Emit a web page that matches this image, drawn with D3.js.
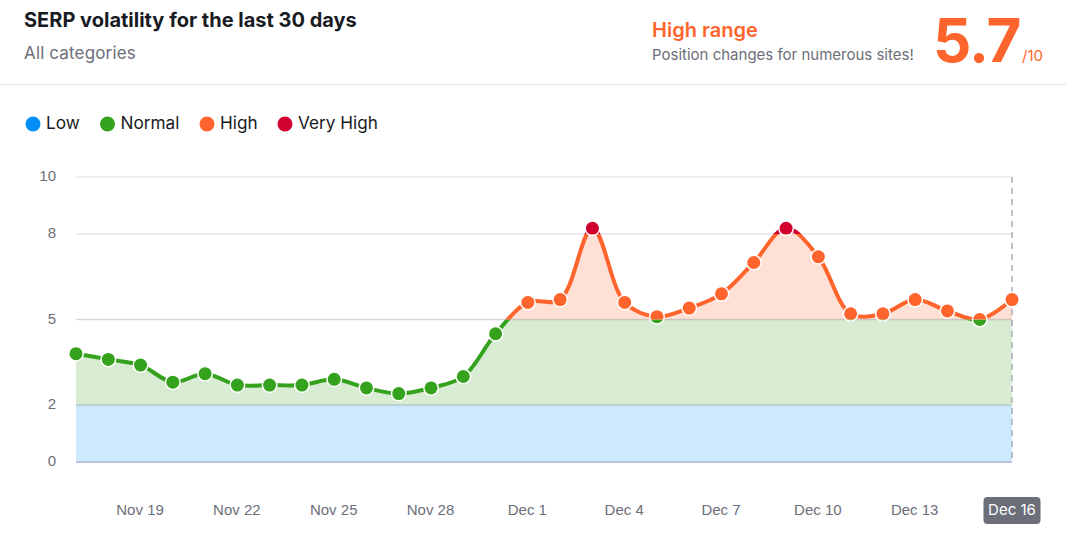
<!DOCTYPE html>
<html><head>
<meta charset="UTF-8">
<title>SERP volatility</title>
<script src="https://d3js.org/d3.v7.min.js"></script>
<style>
    html, body { margin: 0; padding: 0; background: #fff; }
    svg { display: block; font-family: Inter, sans-serif; }
    .tick line, .domain { display: none; }
    .y-axis text { font-size: 15px; fill: #6c6e79; }
    .x-axis text { font-size: 15px; fill: #6c6e79; }
</style>
</head>
<body>
<svg id="chart" width="1066" height="544"></svg>
<script>
    const dates = ["Nov 17", "Nov 18", "Nov 19", "Nov 20", "Nov 21", "Nov 22", "Nov 23", "Nov 24", "Nov 25", "Nov 26",
        "Nov 27", "Nov 28", "Nov 29", "Nov 30", "Dec 1", "Dec 2", "Dec 3", "Dec 4", "Dec 5", "Dec 6",
        "Dec 7", "Dec 8", "Dec 9", "Dec 10", "Dec 11", "Dec 12", "Dec 13", "Dec 14", "Dec 15", "Dec 16"];
    const scores = [3.8, 3.6, 3.4, 2.8, 3.1, 2.7, 2.7, 2.7, 2.9, 2.6,
        2.4, 2.6, 3.0, 4.5, 5.6, 5.7, 8.2, 5.6, 5.1, 5.4,
        5.9, 7.0, 8.2, 7.2, 5.2, 5.2, 5.7, 5.3, 5.0, 5.7];
    const yTicks = [0, 2, 5, 8, 10];
    const xTicks = ["Nov 19", "Nov 22", "Nov 25", "Nov 28", "Dec 1", "Dec 4", "Dec 7", "Dec 10", "Dec 13"];
    const lastDate = "Dec 16";

    const bandNames = ["Low", "Normal", "High", "Very High"];
    const bandFrom = [0, 2, 5, 8];
    const bandTo = [2, 5, 8, 10];
    const bandColors = ["#008ff8", "#35a21e", "#ff642d", "#d1002f"];

    const svg = d3.select("#chart");
    const x = d3.scalePoint().domain(dates).range([76, 1012]);
    const y = d3.scaleLinear().domain([0, 10]).range([462, 177]);

    // header
    svg.append("text").attr("x", 24).attr("y", 27).attr("font-size", 20).attr("font-weight", 700)
        .attr("fill", "#191b23").text("SERP volatility for the last 30 days");
    svg.append("text").attr("x", 24).attr("y", 59).attr("font-size", 17).attr("letter-spacing", 0.15)
        .attr("fill", "#6c6e79").text("All categories");
    svg.append("text").attr("x", 652).attr("y", 37).attr("font-size", 20).attr("font-weight", 600)
        .attr("fill", "#ff642d").text("High range");
    svg.append("text").attr("x", 652).attr("y", 60).attr("font-size", 15)
        .attr("fill", "#6c6e79").text("Position changes for numerous sites!");
    svg.append("text").attr("x", 933).attr("y", 62).attr("font-size", 60).attr("font-weight", 700)
        .attr("letter-spacing", -1).attr("fill", "#ff642d").text("5.7");
    svg.append("text").attr("x", 1022).attr("y", 61).attr("font-size", 15)
        .attr("fill", "#ff642d").text("/10");
    svg.append("line").attr("x1", 0).attr("x2", 1066).attr("y1", 84.5).attr("y2", 84.5)
        .attr("stroke", "#e0e1e9");

    // legend
    const legendCx = [33, 107.5, 207, 285];
    bandNames.forEach((name, i) => {
        svg.append("circle").attr("cx", legendCx[i]).attr("cy", 124).attr("r", 7.5).attr("fill", bandColors[i]);
        svg.append("text").attr("x", legendCx[i] + 13).attr("y", 129).attr("font-size", 17.2)
            .attr("fill", "#191b23").text(name);
    });

    // grid
    svg.append("g").selectAll("line").data(yTicks.slice(1)).enter().append("line")
        .attr("x1", 76).attr("x2", 1012)
        .attr("y1", d => y(d)).attr("y2", d => y(d))
        .attr("stroke", "#e6e7ee").attr("stroke-width", 1.5);

    // one clip per band, wide enough to hold the last dot
    const defs = svg.append("defs");
    bandFrom.forEach((from, i) => {
        defs.append("clipPath").attr("id", "band" + i).append("rect")
            .attr("x", 0).attr("width", 1066)
            .attr("y", y(bandTo[i])).attr("height", y(from) - y(bandTo[i]));
    });

    const curve = d3.curveCatmullRom.alpha(0.5);
    const area = d3.area().x((d, i) => x(dates[i])).y0(y(0)).y1(d => y(d)).curve(curve);
    const line = d3.line().x((d, i) => x(dates[i])).y(d => y(d)).curve(curve);

    // fills
    bandFrom.forEach((from, i) => {
        svg.append("path").datum(scores).attr("d", area)
            .attr("clip-path", `url(#band${i})`)
            .attr("fill", bandColors[i]).attr("fill-opacity", 0.2);
    });
    svg.append("g").selectAll("line").data([2, 5]).enter().append("line")
        .attr("x1", 76).attr("x2", 1012)
        .attr("y1", d => y(d)).attr("y2", d => y(d))
        .attr("stroke", "#5f6b7a").attr("stroke-opacity", 0.12).attr("stroke-width", 1.5);
    svg.append("line").attr("x1", 76).attr("x2", 1012).attr("y1", y(0)).attr("y2", y(0))
        .attr("stroke", "#b7c6de").attr("stroke-width", 2);

    // last day marker
    svg.append("line").attr("x1", x(lastDate)).attr("x2", x(lastDate)).attr("y1", y(10)).attr("y2", y(0))
        .attr("stroke", "#a9aab5").attr("stroke-width", 1.5).attr("stroke-dasharray", "6 5");

    // line
    bandFrom.forEach((from, i) => {
        svg.append("path").datum(scores).attr("d", line)
            .attr("clip-path", `url(#band${i})`)
            .attr("fill", "none").attr("stroke", bandColors[i]).attr("stroke-width", 4);
    });

    // dots
    svg.append("g").selectAll("circle").data(scores).enter().append("circle")
        .attr("cx", (d, i) => x(dates[i])).attr("cy", d => y(d)).attr("r", 8).attr("fill", "#fff");
    bandFrom.forEach((from, i) => {
        svg.append("g").attr("clip-path", `url(#band${i})`)
            .selectAll("circle").data(scores).enter().append("circle")
            .attr("cx", (d, j) => x(dates[j])).attr("cy", d => y(d)).attr("r", 6.5)
            .attr("fill", bandColors[i]);
    });

    // axes
    svg.append("g").attr("class", "y-axis").attr("transform", "translate(56,-1)")
        .call(d3.axisLeft(y).tickValues(yTicks).tickSize(0).tickPadding(0));
    svg.append("g").attr("class", "x-axis").attr("transform", "translate(-1,504)")
        .call(d3.axisBottom(x).tickValues(xTicks).tickSize(0).tickPadding(0));

    // highlighted last date
    svg.append("rect").attr("x", x(lastDate) - 28.5).attr("y", 497).attr("width", 57).attr("height", 27)
        .attr("rx", 4).attr("fill", "#6c6e79");
    svg.append("text").attr("x", x(lastDate)).attr("y", 515).attr("text-anchor", "middle")
        .attr("font-size", 15).attr("fill", "#fff").text(lastDate);
</script>
</body>
</html>
